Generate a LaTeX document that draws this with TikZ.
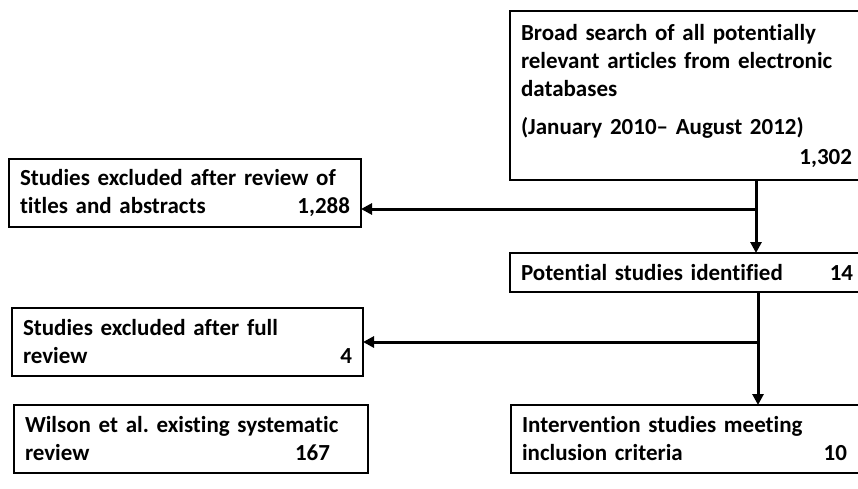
\documentclass[tikz,border=0pt]{standalone}
\usepackage{fontspec}
\setmainfont{Carlito}[Ligatures=NoCommon]
\usepackage{tikz}
\usetikzlibrary{calc}
\usetikzlibrary{arrows.meta}
\usetikzlibrary{positioning}
\tikzset{stage/.style={rectangle,draw=black,line width=2.8pt,outer sep=0pt,anchor=north west,align=left,inner xsep=11pt,inner ysep=0pt,font=\fontsize{23}{28}\selectfont\bfseries\frenchspacing}}
\tikzset{flow/.style={line width=3pt,-{Triangle[length=11pt,width=11pt]}}}
\newcommand{\trail}[1]{\hbox to #1{}}

\begin{document}
\begin{tikzpicture}[x=1pt,y=-1pt]

\clip (0,0) rectangle (858,488);

% right column
\node[stage,text width=338pt,minimum height=169pt] (search) at (510,11)
  {Broad search of all potentially\\relevant articles from electronic\\databases\\[10pt]
   (January 2010-- August 2012)\\[2pt]\hfill 1,302\trail{7pt}};
\node[stage,text width=334pt,minimum height=39pt] (potential) at (510,253)
  {Potential studies identified\hfill 14\trail{2pt}};
\node[stage,text width=333pt,minimum height=68pt] (include) at (511,405)
  {Intervention studies meeting\\inclusion criteria\hfill 10\trail{8pt}};

% left column
\node[stage,text width=330pt,minimum height=68pt] (screen) at (9,159)
  {Studies excluded after review of\\titles and abstracts\hfill 1,288};
\node[stage,text width=329pt,minimum height=68pt] (fulltext) at (12,308)
  {Studies excluded after full\\review\hfill 4};
\node[stage,text width=332pt,minimum height=68pt] (wilson) at (14,405)
  {Wilson et al. existing systematic\\review\hfill 167\trail{27pt}};

% connectors
\coordinate (j1) at (756,209);
\coordinate (j2) at (758,342);

\draw[line width=3pt] (search.south -| j1) -- (j1);
\draw[flow] (j1) -- (potential.north -| j1);
\draw[flow] (j1) -- (screen.east |- j1);

\draw[line width=3pt] (potential.south -| j2) -- (j2);
\draw[flow] (j2) -- (include.north -| j2);
\draw[flow] (j2) -- (fulltext.east |- j2);

\end{tikzpicture}
\end{document}
